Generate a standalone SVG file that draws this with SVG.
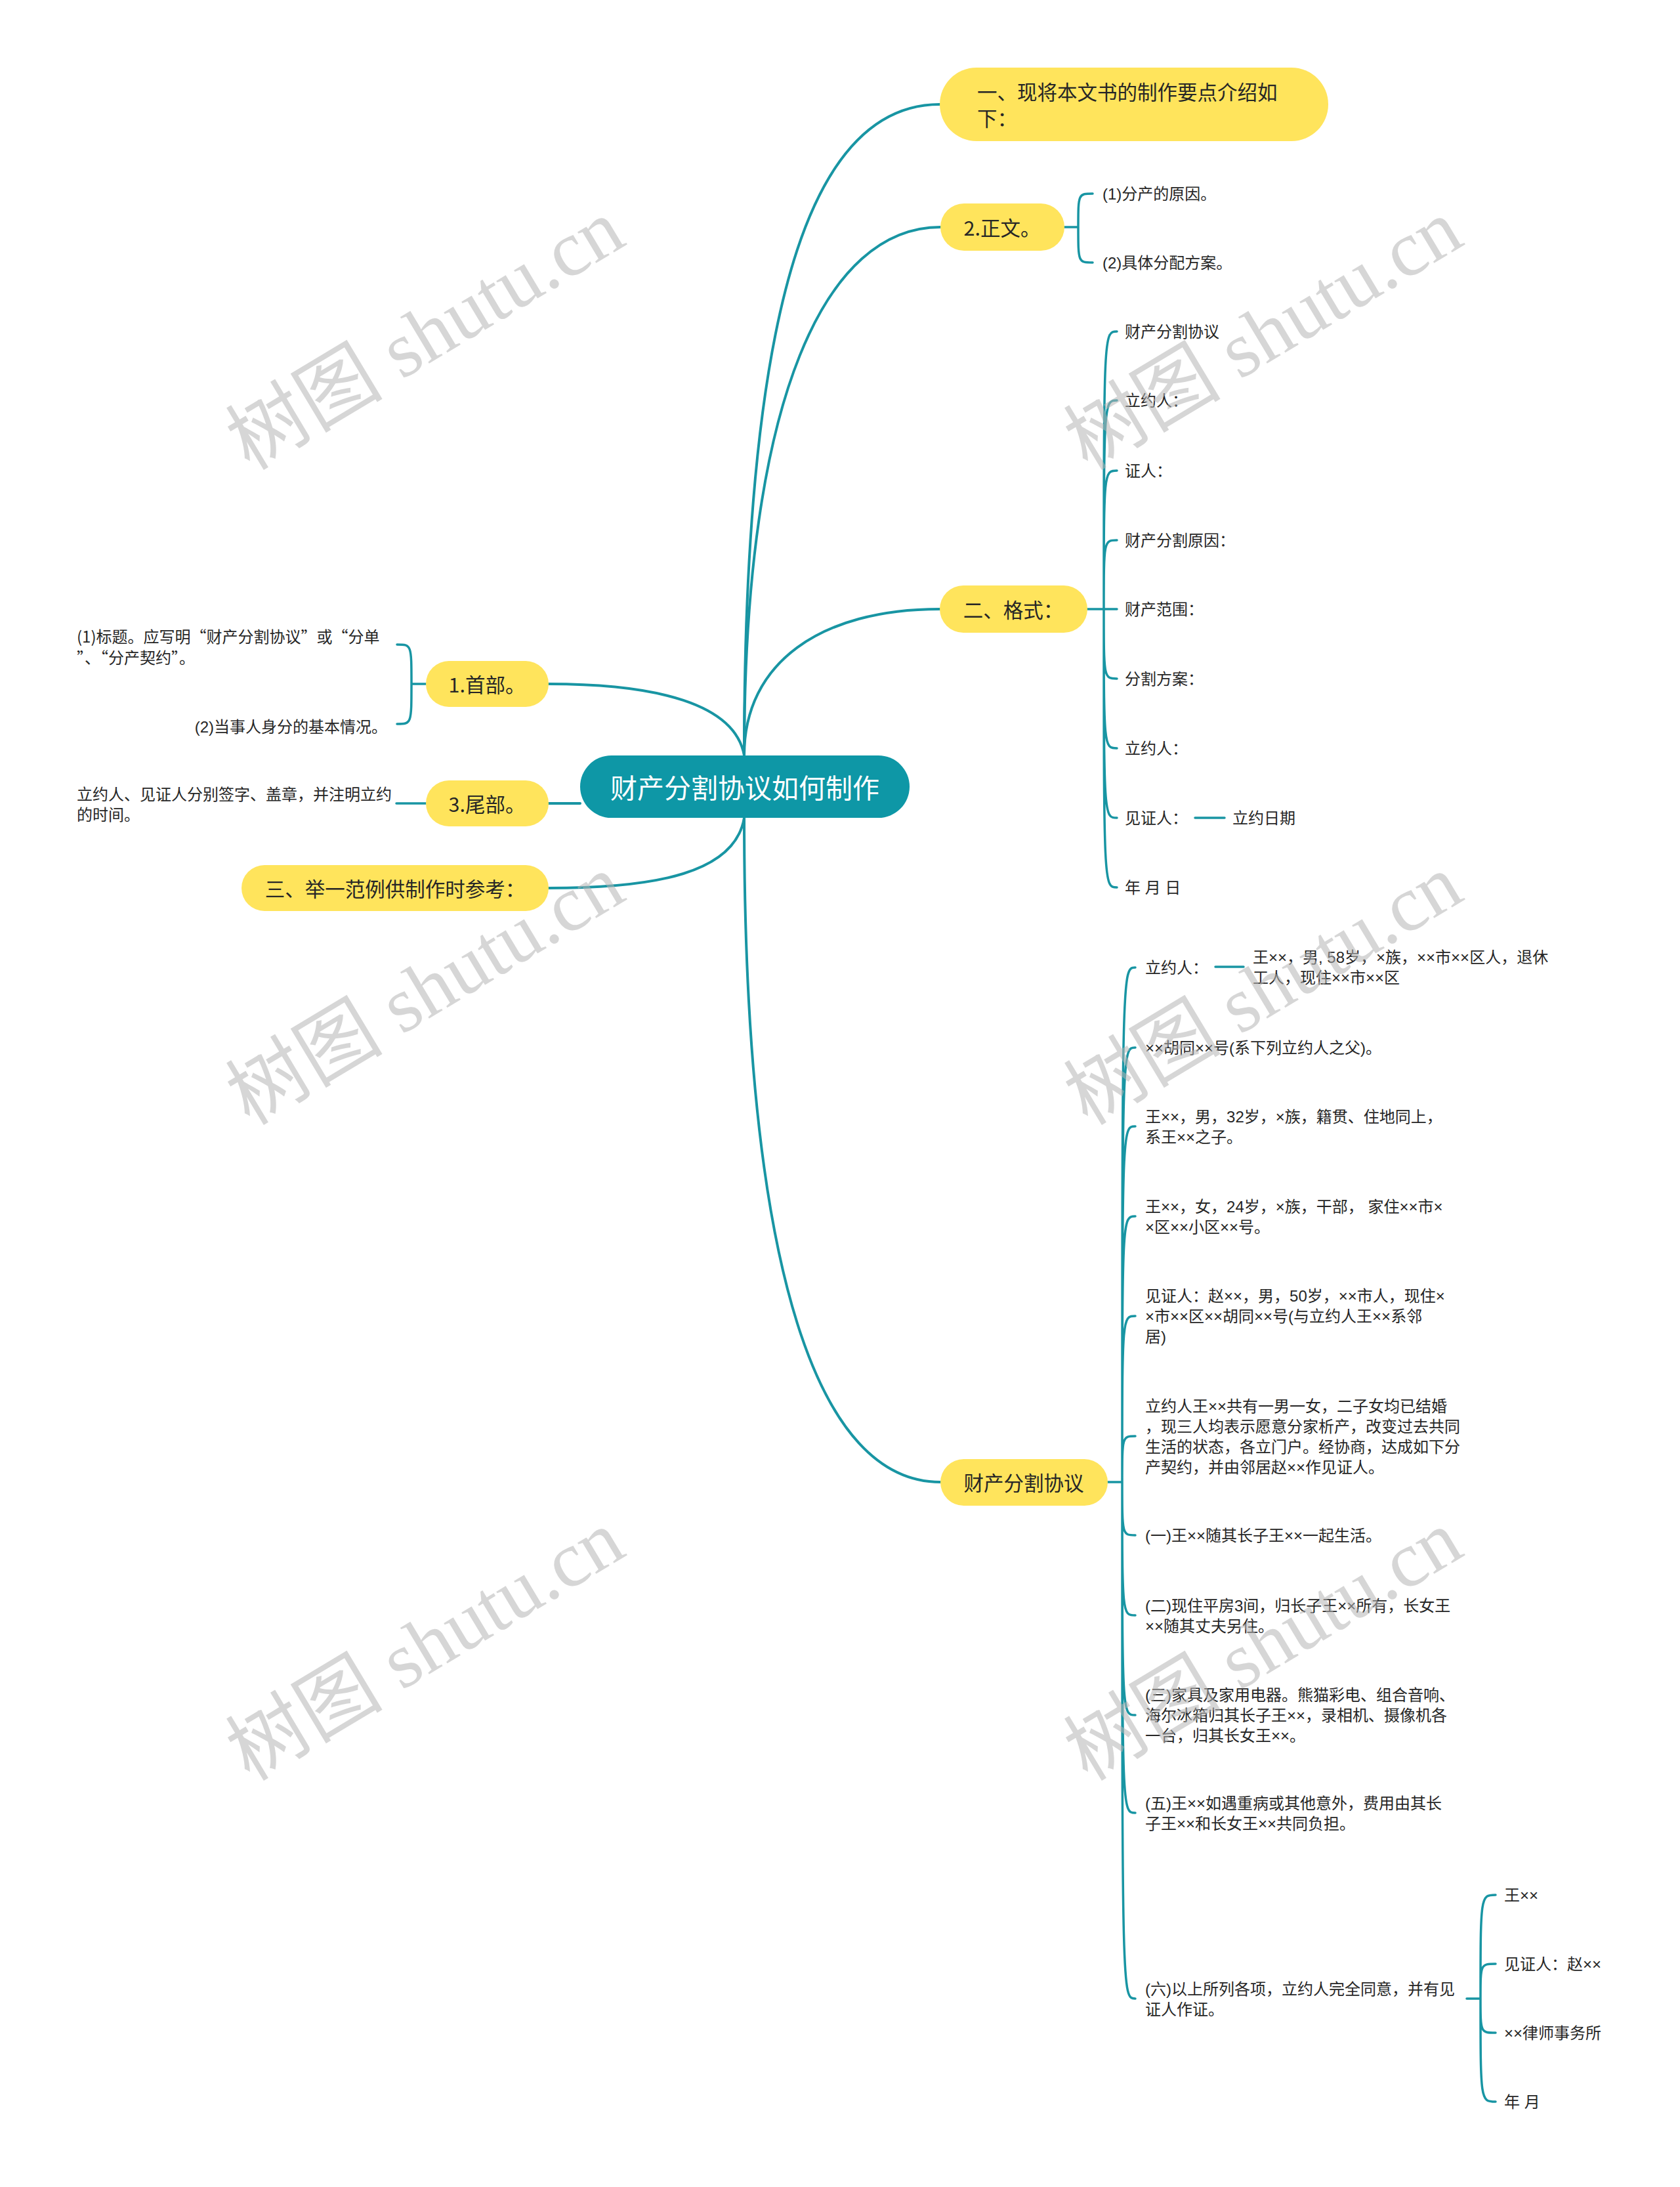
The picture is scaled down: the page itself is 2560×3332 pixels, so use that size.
<svg xmlns="http://www.w3.org/2000/svg" width="2560" height="3332" viewBox="0 0 2560 3332">
<style>
.bg{fill:#ffffff}
.ln{fill:none;stroke:#1895a3;stroke-width:4;stroke-linecap:round}
.br{fill:none;stroke:#1895a3;stroke-width:3.5;stroke-linecap:round}
.topic{fill:#FFE45C}
.root{fill:#0E97A6}
text{font-family:"Noto Sans CJK SC","Microsoft YaHei",sans-serif;fill:#262626}
.t30{font-size:30.5px}
.t23{font-size:24px;font-family:"Liberation Sans","Noto Sans CJK SC",sans-serif}
.cjk{font-family:"Noto Sans CJK SC",sans-serif}
.root-t{font-size:41px;fill:#ffffff}
.wm{font-family:"Liberation Serif","Noto Sans CJK SC",serif;font-size:120px;fill:#b5b5b5;fill-opacity:0.55}
</style>
<rect class="bg" x="0" y="0" width="2560" height="3332"/>

<g id="connectors">
  <path class="ln" d="M1134 1151 C1134 420 1250 159 1432 159"/>
  <path class="ln" d="M1134 1151 C1134 600 1260 346 1433 346"/>
  <path class="ln" d="M1134 1151 C1134 1010 1250 928 1432 928"/>
  <path class="ln" d="M1134 1246 C1134 1950 1250 2258 1433 2258"/>
  <path class="ln" d="M1134 1151 C1120 1072 1000 1042 836 1042"/>
  <path class="ln" d="M884 1224 L836 1224"/>
  <path class="ln" d="M1134 1246 C1120 1330 1000 1353 836 1353"/>

  <path class="br" d="M1622 346 L1643 346 M1643 346 C1643 295 1643 295 1665 295 M1643 346 C1643 400 1643 400 1665 400"/>

  <path class="br" d="M1657 928 L1702 928 M1682 928 C1682 505 1682 505 1702 505 M1682 928 C1682 610 1682 610 1702 610 M1682 928 C1682 717 1682 717 1702 717 M1682 928 C1682 823 1682 823 1702 823 M1682 928 C1682 1034 1682 1034 1702 1034 M1682 928 C1682 1140 1682 1140 1702 1140 M1682 928 C1682 1246 1682 1246 1702 1246 M1682 928 C1682 1352 1682 1352 1702 1352"/>
  <path class="br" d="M1821 1246 L1866 1246"/>

  <path class="br" d="M1688 2258 L1710 2258 M1710 2258 C1710 1474 1710 1474 1730 1474 M1710 2258 C1710 1596 1710 1596 1730 1596 M1710 2258 C1710 1716 1710 1716 1730 1716 M1710 2258 C1710 1853 1710 1853 1730 1853 M1710 2258 C1710 2005 1710 2005 1730 2005 M1710 2258 C1710 2188 1710 2188 1730 2188 M1710 2258 C1710 2339 1710 2339 1730 2339 M1710 2258 C1710 2461 1710 2461 1730 2461 M1710 2258 C1710 2613 1710 2613 1730 2613 M1710 2258 C1710 2762 1710 2762 1730 2762 M1710 2258 C1710 3045 1710 3045 1730 3045"/>
  <path class="br" d="M1852 1473 L1895 1473"/>

  <path class="br" d="M2235 3045 L2256 3045 M2256 3045 C2256 2887 2256 2887 2279 2887 M2256 3045 C2256 2992 2256 2992 2279 2992 M2256 3045 C2256 3097 2256 3097 2279 3097 M2256 3045 C2256 3202 2256 3202 2279 3202"/>

  <path class="br" d="M649 1042 L627 1042 M627 1042 C627 982 627 982 605 982 M627 1042 C627 1103 627 1103 605 1103"/>
  <path class="br" d="M604 1224 L649 1224"/>
</g>

<g id="root">
  <rect class="root" x="884" y="1151" width="502" height="95" rx="47.5"/>
  <text class="root-t" x="1135" y="1198" text-anchor="middle" dominant-baseline="central">财产分割协议如何制作</text>
</g>

<g id="n-intro">
  <rect class="topic" x="1432" y="103" width="592" height="112" rx="56"/>
  <text class="t30" x="1489" y="139" dominant-baseline="central">一、现将本文书的制作要点介绍如</text>
  <text class="t30" x="1489" y="179" dominant-baseline="central">下：</text>
</g>

<g id="n-body">
  <rect class="topic" x="1433" y="310" width="189" height="72" rx="36"/>
  <text class="t30" x="1527" y="346" text-anchor="middle" dominant-baseline="central">2.正文。</text>
</g>
<g id="n-body-1"><text class="t23" x="1680" y="295" dominant-baseline="central">(1)分产的原因。</text></g>
<g id="n-body-2"><text class="t23" x="1680" y="400" dominant-baseline="central">(2)具体分配方案。</text></g>

<g id="n-format">
  <rect class="topic" x="1432" y="892" width="225" height="72" rx="36"/>
  <text class="t30" x="1544" y="928" text-anchor="middle" dominant-baseline="central">二、格式：</text>
</g>
<g id="n-format-1"><text class="t23" x="1714" y="505" dominant-baseline="central">财产分割协议</text></g>
<g id="n-format-2"><text class="t23" x="1714" y="610" dominant-baseline="central">立约人：</text></g>
<g id="n-format-3"><text class="t23" x="1714" y="717" dominant-baseline="central">证人：</text></g>
<g id="n-format-4"><text class="t23" x="1714" y="823" dominant-baseline="central">财产分割原因：</text></g>
<g id="n-format-5"><text class="t23" x="1714" y="928" dominant-baseline="central">财产范围：</text></g>
<g id="n-format-6"><text class="t23" x="1714" y="1034" dominant-baseline="central">分割方案：</text></g>
<g id="n-format-7"><text class="t23" x="1714" y="1140" dominant-baseline="central">立约人：</text></g>
<g id="n-format-8"><text class="t23" x="1714" y="1246" dominant-baseline="central">见证人：</text></g>
<g id="n-format-8a"><text class="t23" x="1878" y="1246" dominant-baseline="central">立约日期</text></g>
<g id="n-format-9"><text class="t23" x="1714" y="1352" dominant-baseline="central">年 月 日</text></g>

<g id="n-sample">
  <rect class="topic" x="1433" y="2223" width="255" height="71" rx="35.5"/>
  <text class="t30" x="1560" y="2258" text-anchor="middle" dominant-baseline="central">财产分割协议</text>
</g>
<g id="s-1"><text class="t23" x="1745" y="1474" dominant-baseline="central">立约人：</text></g>
<g id="s-1a">
  <text class="t23" x="1909" y="1458" dominant-baseline="central">王××，男, 58岁，×族，××市××区人，退休</text>
  <text class="t23" x="1909" y="1489" dominant-baseline="central">工人，现住××市××区</text>
</g>
<g id="s-2"><text class="t23" x="1745" y="1596" dominant-baseline="central">××胡同××号(系下列立约人之父)。</text></g>
<g id="s-3">
  <text class="t23" x="1745" y="1701" dominant-baseline="central">王××，男，32岁，×族，籍贯、住地同上，</text>
  <text class="t23" x="1745" y="1732" dominant-baseline="central">系王××之子。</text>
</g>
<g id="s-4">
  <text class="t23" x="1745" y="1838" dominant-baseline="central">王××，女，24岁，×族，干部， 家住××市×</text>
  <text class="t23" x="1745" y="1869" dominant-baseline="central">×区××小区××号。</text>
</g>
<g id="s-5">
  <text class="t23" x="1745" y="1974" dominant-baseline="central">见证人：赵××，男，50岁，××市人，现住×</text>
  <text class="t23" x="1745" y="2005" dominant-baseline="central">×市××区××胡同××号(与立约人王××系邻</text>
  <text class="t23" x="1745" y="2036" dominant-baseline="central">居)</text>
</g>
<g id="s-6">
  <text class="t23" x="1745" y="2142" dominant-baseline="central">立约人王××共有一男一女，二子女均已结婚</text>
  <text class="t23" x="1745" y="2173" dominant-baseline="central">，现三人均表示愿意分家析产，改变过去共同</text>
  <text class="t23" x="1745" y="2204" dominant-baseline="central">生活的状态，各立门户。经协商，达成如下分</text>
  <text class="t23" x="1745" y="2235" dominant-baseline="central">产契约，并由邻居赵××作见证人。</text>
</g>
<g id="s-7"><text class="t23" x="1745" y="2339" dominant-baseline="central">(一)王××随其长子王××一起生活。</text></g>
<g id="s-8">
  <text class="t23" x="1745" y="2446" dominant-baseline="central">(二)现住平房3间，归长子王××所有，长女王</text>
  <text class="t23" x="1745" y="2477" dominant-baseline="central">××随其丈夫另住。</text>
</g>
<g id="s-9">
  <text class="t23" x="1745" y="2582" dominant-baseline="central">(三)家具及家用电器。熊猫彩电、组合音响、</text>
  <text class="t23" x="1745" y="2613" dominant-baseline="central">海尔冰箱归其长子王××，录相机、摄像机各</text>
  <text class="t23" x="1745" y="2644" dominant-baseline="central">一台，归其长女王××。</text>
</g>
<g id="s-10">
  <text class="t23" x="1745" y="2747" dominant-baseline="central">(五)王××如遇重病或其他意外，费用由其长</text>
  <text class="t23" x="1745" y="2778" dominant-baseline="central">子王××和长女王××共同负担。</text>
</g>
<g id="s-11">
  <text class="t23" x="1745" y="3030" dominant-baseline="central">(六)以上所列各项，立约人完全同意，并有见</text>
  <text class="t23" x="1745" y="3061" dominant-baseline="central">证人作证。</text>
</g>
<g id="s-11-1"><text class="t23" x="2292" y="2887" dominant-baseline="central">王××</text></g>
<g id="s-11-2"><text class="t23" x="2292" y="2992" dominant-baseline="central">见证人：赵××</text></g>
<g id="s-11-3"><text class="t23" x="2292" y="3097" dominant-baseline="central">××律师事务所</text></g>
<g id="s-11-4"><text class="t23" x="2292" y="3202" dominant-baseline="central">年 月</text></g>

<g id="n-head">
  <rect class="topic" x="649" y="1007" width="187" height="70" rx="35"/>
  <text class="t30" x="742" y="1042" text-anchor="middle" dominant-baseline="central">1.首部。</text>
</g>
<g id="n-head-1">
  <text class="t23 cjk" x="117" y="968" dominant-baseline="central">(1)标题。应写明“财产分割协议”或“分单</text>
  <text class="t23 cjk" x="117" y="1000" dominant-baseline="central">”、“分产契约”。</text>
</g>
<g id="n-head-2"><text class="t23" x="590" y="1107" text-anchor="end" dominant-baseline="central">(2)当事人身分的基本情况。</text></g>

<g id="n-tail">
  <rect class="topic" x="649" y="1189" width="187" height="70" rx="35"/>
  <text class="t30" x="742" y="1224" text-anchor="middle" dominant-baseline="central">3.尾部。</text>
</g>
<g id="n-tail-1">
  <text class="t23" x="117" y="1210" dominant-baseline="central">立约人、见证人分别签字、盖章，并注明立约</text>
  <text class="t23" x="117" y="1241" dominant-baseline="central">的时间。</text>
</g>

<g id="n-example">
  <rect class="topic" x="368" y="1318" width="468" height="70" rx="35"/>
  <text class="t30" x="602" y="1353" text-anchor="middle" dominant-baseline="central">三、举一范例供制作时参考：</text>
</g>

<g id="watermarks">
  <text class="wm" transform="translate(648 510) rotate(-31)" text-anchor="middle" dominant-baseline="central">树图 shutu.cn</text>
  <text class="wm" transform="translate(1925 510) rotate(-31)" text-anchor="middle" dominant-baseline="central">树图 shutu.cn</text>
  <text class="wm" transform="translate(648 1508) rotate(-31)" text-anchor="middle" dominant-baseline="central">树图 shutu.cn</text>
  <text class="wm" transform="translate(1925 1508) rotate(-31)" text-anchor="middle" dominant-baseline="central">树图 shutu.cn</text>
  <text class="wm" transform="translate(648 2507) rotate(-31)" text-anchor="middle" dominant-baseline="central">树图 shutu.cn</text>
  <text class="wm" transform="translate(1925 2507) rotate(-31)" text-anchor="middle" dominant-baseline="central">树图 shutu.cn</text>
</g>
</svg>
